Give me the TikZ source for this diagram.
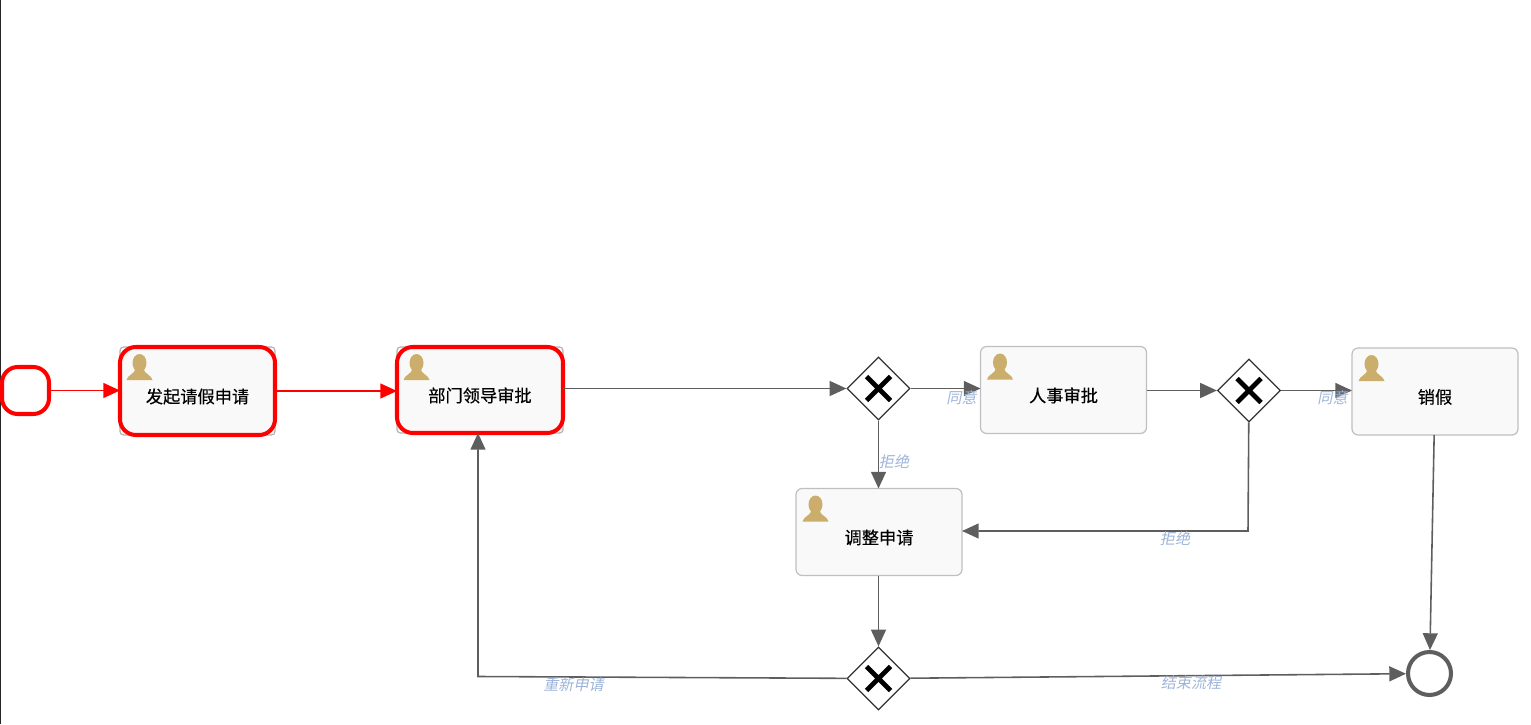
\documentclass[tikz,border=0pt]{standalone}
\usepackage{fontspec}
\setmainfont{Noto Sans CJK SC}
\newfontfamily\taskfont{Noto Sans CJK SC}[FakeBold=0.3]
\newfontfamily\labelfont{Noto Sans CJK SC}[FakeSlant=0.2]
\usetikzlibrary{shapes.geometric,arrows.meta,calc,backgrounds}

\definecolor{flowgray}{HTML}{5E5E5E}
\definecolor{flowred}{HTML}{FF0000}
\definecolor{flowgold}{HTML}{CBAD6C}
\definecolor{flowblue}{HTML}{9DB4D8}

\tikzset{
  task/.style={draw=black!25,fill=black!2.5,rounded corners=3.5pt,line width=0.7pt,
    minimum width=3.32cm,minimum height=1.74cm,font=\fontsize{9.8pt}{11pt}\taskfont,
    text=black,inner sep=0pt,outer sep=0pt,text height=0.48cm,text depth=0pt},
  donetask/.style={task,draw=flowred,line width=2.3pt,rounded corners=9pt,
    minimum width=3.1cm,minimum height=1.76cm},
  gateway/.style={draw=black!80,fill=white,diamond,aspect=1,line width=0.7pt,
    minimum width=1.26cm,minimum height=1.26cm,inner sep=0pt},
  flow/.style={draw=flowgray,line width=0.9pt,-{Triangle[length=9.5pt,width=8.5pt]}},
  doneflow/.style={flow,draw=flowred},
  flowlabel/.style={text=flowblue,font=\fontsize{8.6pt}{10pt}\labelfont,inner sep=0pt}
}

% 人形图标
\newcommand{\usericon}[1]{
  \begin{scope}[shift={($(#1.north west)+(0.13,-0.66)$)}]
    \fill[flowgold] (0.26,0.34) ellipse [x radius=0.14,y radius=0.18];
    \fill[flowgold] (0,0) -- (0.52,0) .. controls (0.50,0.10) and (0.36,0.12) .. (0.34,0.22)
      -- (0.18,0.22) .. controls (0.16,0.12) and (0.02,0.10) .. (0,0) -- cycle;
  \end{scope}
}
% 网关里的叉
\newcommand{\gatecross}[1]{
  \draw[black,line width=2.8pt] ($(#1)+(-0.24,-0.24)$) -- ($(#1)+(0.24,0.24)$)
    ($(#1)+(-0.24,0.24)$) -- ($(#1)+(0.24,-0.24)$);
}
% 红框下面露出的灰角
\newcommand{\graycorner}[1]{
  \begin{scope}[on background layer]
    \draw[black!30,line width=0.7pt,rounded corners=2pt] (#1.north west) rectangle (#1.south east);
  \end{scope}
}

\begin{document}
\begin{tikzpicture}
  \useasboundingbox (0,0) rectangle (30.62,14.48);

  % 左边的黑线
  \draw[black!85,line width=1.1pt] (0.01,0) -- (0.01,14.48);

  % 开始和结束
  \node[draw=flowred,fill=white,line width=2.3pt,rounded corners=9pt,minimum size=0.94cm,inner sep=0pt] (startev) at (0.51,6.67) {};
  \node[draw=flowgray,fill=white,circle,line width=2.3pt,minimum size=0.86cm,inner sep=0pt] (endev) at (28.59,1.01) {};

  % 任务
  \node[donetask] (apply) at (3.95,6.66) {发起请假申请};
  \node[donetask,minimum width=3.32cm,minimum height=1.72cm] (leader) at (9.6,6.68) {部门领导审批};
  \node[task] (hr) at (21.27,6.68) {人事审批};
  \node[task] (cancel) at (28.7,6.65) {销假};
  \node[task] (adjust) at (17.58,3.84) {调整申请};
  \graycorner{apply}
  \graycorner{leader}
  \usericon{apply}
  \usericon{leader}
  \usericon{hr}
  \usericon{cancel}
  \usericon{adjust}

  % 网关
  \node[gateway] (gwa) at (17.57,6.71) {};
  \node[gateway] (gwb) at (24.98,6.67) {};
  \node[gateway] (gwc) at (17.57,0.91) {};
  \gatecross{gwa}
  \gatecross{gwb}
  \gatecross{gwc}

  \coordinate (bendb) at (24.96,3.86);
  \coordinate (bendc) at (9.56,0.95);

  % 连线
  \draw[doneflow] (startev) -- (apply.west |- startev);
  \draw[doneflow] (apply.east) -- (leader.west |- apply.east);
  \draw[flow] (leader.east |- gwa) -- (gwa);
  \draw[flow] (gwa) -- (hr.west |- gwa);
  \draw[flow] (hr.east |- gwb) -- (gwb);
  \draw[flow] (gwb) -- (cancel.west |- gwb);
  \draw[flow] (gwa) -- (adjust.north -| gwa);
  \draw[flow] (gwb) -- (bendb) -- (adjust.east |- bendb);
  \draw[flow] (adjust.south -| gwc) -- (gwc);
  \draw[flow] (gwc) -- (bendc) -- (leader.south -| bendc);
  \draw[flow] (gwc) -- (endev);
  \draw[flow] (cancel) -- (endev);

  % 标签
  \node[flowlabel] (ta) at (19.23,6.52) {同意};
  \node[flowlabel] (tb) at (26.65,6.52) {同意};
  \node[flowlabel] (tc) at (17.88,5.25) {拒绝};
  \node[flowlabel] (td) at (23.5,3.7) {拒绝};
  \node[flowlabel] (te) at (11.47,0.78) {重新申请};
  \node[flowlabel] (tf) at (23.82,0.82) {结束流程};
\end{tikzpicture}
\end{document}
